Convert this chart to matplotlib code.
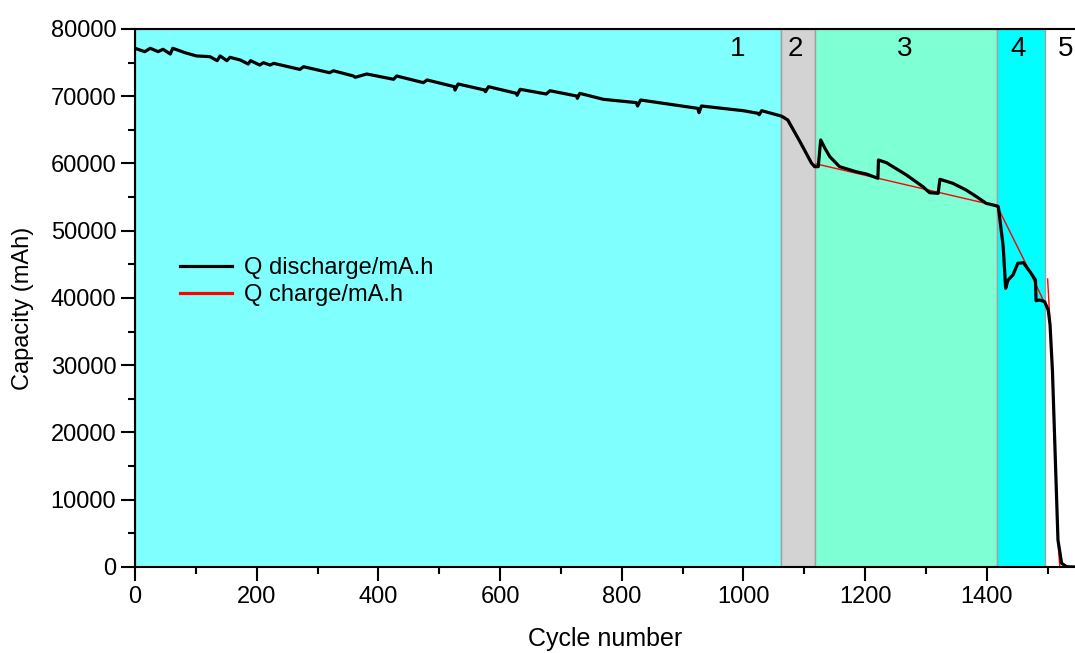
import matplotlib
matplotlib.use("Agg")
from matplotlib import pyplot as plt
from matplotlib.ticker import MultipleLocator

plt.rcParams['font.family'] = ['Liberation Sans', 'DejaVu Sans']

# Q discharge (black)
cycle_dis = [0, 16, 25, 38, 46, 58, 62, 82, 101, 123, 135, 140, 151, 156, 173, 186, 190,
             205, 211, 222, 228, 271, 277, 320, 326, 359, 362, 381, 425, 430, 474, 480,
             525, 526, 531, 575, 576, 581, 627, 628, 633, 676, 682, 726, 727, 731, 770,
             824, 826, 831, 925, 927, 931, 1000, 1024, 1026, 1030, 1062, 1073, 1093, 1112,
             1117, 1123, 1127, 1134, 1142, 1158, 1185, 1202, 1221, 1222, 1235, 1268, 1295,
             1306, 1320, 1323, 1344, 1366, 1383, 1399, 1417, 1419, 1427, 1431, 1435, 1443,
             1451, 1460, 1471, 1480, 1481, 1487, 1495, 1501, 1504, 1508, 1512, 1517, 1523,
             1531, 1545]
q_dis = [77130, 76630, 77130, 76630, 76980, 76280, 77130, 76480, 75990, 75890, 75290, 75990,
         75290, 75790, 75390, 74790, 75290, 74640, 74990, 74640, 74890, 73990, 74390, 73500,
         73790, 73010, 72820, 73310, 72520, 73010, 72020, 72420, 71420, 70920, 71820, 70920,
         70670, 71420, 70430, 70150, 71030, 70330, 70820, 70030, 69690, 70430, 69540, 69050,
         68550, 69440, 68200, 67560, 68550, 67850, 67460, 67250, 67850, 67060, 66470, 63240,
         60030, 59530, 59530, 63500, 62260, 61020, 59530, 58780, 58440, 57800, 60520, 60120,
         58290, 56550, 55660, 55560, 57650, 57060, 56060, 55070, 54080, 53680, 53580, 47630,
         41440, 42680, 43420, 45160, 45250, 43910, 42680, 39600, 39700, 39450, 38210, 36000,
         29000, 17890, 4010, 550, 50, 0]

# Q charge (red)
cycle_ch = [1062, 1068, 1115, 1120, 1417, 1468, 1494]
q_ch = [67060, 66960, 59780, 59930, 53680, 44420, 39450]
cycle_ch_tail = [1500, 1506, 1512, 1517, 1520]
q_ch_tail = [42830, 33000, 17000, 4000, 0]

# stage bands
stage_edges = [0, 1062, 1117, 1417, 1496]
stage_colors = ['#80ffff', '#d3d3d3', '#7fffd4', '#00ffff']
stage_names = ['1', '2', '3', '4', '5']
stage_label_x = [990, 1086, 1265, 1452, 1530]

fig = plt.figure(figsize=(10.75, 6.53), dpi=100, facecolor='white')
ax = fig.add_axes([0.1256, 0.1317, 0.8744, 0.8239])

for i in range(len(stage_colors)):
    ax.axvspan(stage_edges[i], stage_edges[i + 1], facecolor=stage_colors[i],
               edgecolor='#a0a0a0', lw=1, zorder=0)

ax.plot(cycle_ch, q_ch, color='red', lw=1.0, zorder=2)
ax.plot(cycle_ch_tail, q_ch_tail, color='red', lw=1.0, zorder=2)
ax.plot(cycle_dis, q_dis, color='black', lw=2.3, zorder=3, solid_joinstyle='round')

for name, xpos in zip(stage_names, stage_label_x):
    ax.text(xpos, 77000, name, fontsize=20, ha='center', va='center', zorder=4)

ax.set_xlim(0, 1545)
ax.set_ylim(0, 80000)
ax.xaxis.set_major_locator(MultipleLocator(200))
ax.xaxis.set_minor_locator(MultipleLocator(100))
ax.yaxis.set_major_locator(MultipleLocator(10000))
ax.yaxis.set_minor_locator(MultipleLocator(5000))
ax.tick_params(which='major', length=10, width=1.5, labelsize=17, direction='out')
ax.tick_params(which='minor', length=5, width=1.5, direction='out')
for side in ['left', 'bottom', 'top']:
    ax.spines[side].set_linewidth(1.5)
ax.spines['right'].set_visible(False)

ax.set_xlabel('Cycle number', fontsize=18, labelpad=14)
ax.set_ylabel('Capacity (mAh)', fontsize=17)
ax.yaxis.set_label_coords(-0.107, 0.48)

h1, = ax.plot([], [], color='black', lw=2.3)
h2, = ax.plot([], [], color='red', lw=2.3)
ax.legend([h1, h2], ['Q discharge/mA.h', 'Q charge/mA.h'], loc='center left',
          bbox_to_anchor=(0.025, 0.53), frameon=False, fontsize=17,
          handlelength=2.2, handletextpad=0.5, labelspacing=0.2)

fig.savefig('out.png', dpi=100)
